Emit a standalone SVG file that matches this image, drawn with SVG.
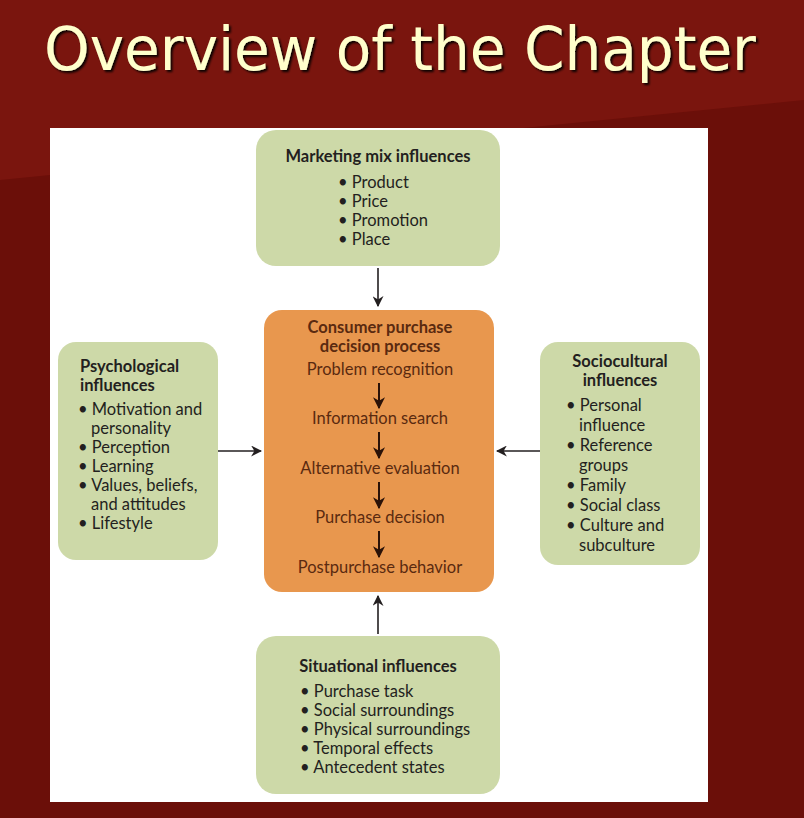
<svg xmlns="http://www.w3.org/2000/svg" width="804" height="818" viewBox="0 0 804 818">
<defs>
<marker id="ah" viewBox="0 0 10 10" refX="9" refY="5" markerWidth="11" markerHeight="11" orient="auto" markerUnits="userSpaceOnUse"><path d="M0,0 L10,5 L0,10 L3,5 z" fill="#231f20"/></marker>
<marker id="ah2" viewBox="0 0 10 10" refX="9" refY="5" markerWidth="12" markerHeight="12" orient="auto" markerUnits="userSpaceOnUse"><path d="M0,0 L10,5 L0,10 L3,5 z" fill="#2a1208"/></marker>
<filter id="sh"><feDropShadow dx="2" dy="2" stdDeviation="0.8" flood-color="#000" flood-opacity="0.9"/></filter>
</defs>
<style>
.g{fill:#cdd9a8}
.t{font-family:Lato,"Open Sans",sans-serif;font-size:16.5px;fill:#231f20}
.b{font-weight:bold}
.o{fill:#5a2a10}
.c{stroke:#231f20;stroke-width:1.6;fill:none}
</style>
<rect width="804" height="818" fill="#6b0f09"/>
<path d="M0,0 H804 V100 L0,180 Z" fill="#7a150e"/>
<text x="400" y="70" text-anchor="middle" font-family="DejaVu Sans,sans-serif" font-size="60" fill="#ffffcc" filter="url(#sh)" textLength="712" lengthAdjust="spacingAndGlyphs">Overview of the Chapter</text>
<rect x="50" y="128" width="658" height="674" fill="#fff"/>
<g id="marketing">
<rect class="g" x="256" y="130" width="244" height="136" rx="20"/>
<text class="t b" x="378" y="162" text-anchor="middle">Marketing mix influences</text>
<text class="t" x="338" y="188">• Product</text>
<text class="t" x="338" y="207">• Price</text>
<text class="t" x="338" y="226">• Promotion</text>
<text class="t" x="338" y="245">• Place</text>
</g>
<g id="consumer">
<rect x="264" y="310" width="230" height="282" rx="18" fill="#e8974e"/>
<text class="t b o" x="380" y="333" text-anchor="middle">Consumer purchase</text>
<text class="t b o" x="380" y="352" text-anchor="middle">decision process</text>
<text class="t o" x="380" y="375" text-anchor="middle">Problem recognition</text>
<text class="t o" x="380" y="424" text-anchor="middle">Information search</text>
<text class="t o" x="380" y="474" text-anchor="middle">Alternative evaluation</text>
<text class="t o" x="380" y="523" text-anchor="middle">Purchase decision</text>
<text class="t o" x="380" y="573" text-anchor="middle">Postpurchase behavior</text>
<g stroke="#2a1208" stroke-width="2" marker-end="url(#ah2)">
<line x1="379" y1="383" x2="379" y2="408"/>
<line x1="379" y1="432" x2="379" y2="458"/>
<line x1="379" y1="482" x2="379" y2="508"/>
<line x1="379" y1="531" x2="379" y2="557"/>
</g>
</g>
<g id="psychological">
<rect class="g" x="58" y="342" width="160" height="218" rx="18"/>
<text class="t b" x="80" y="372">Psychological</text>
<text class="t b" x="80" y="391">influences</text>
<text class="t" x="78" y="415">• Motivation and</text>
<text class="t" x="91" y="434">personality</text>
<text class="t" x="78" y="453">• Perception</text>
<text class="t" x="78" y="472">• Learning</text>
<text class="t" x="78" y="491">• Values, beliefs,</text>
<text class="t" x="91" y="510">and attitudes</text>
<text class="t" x="78" y="529">• Lifestyle</text>
</g>
<g id="sociocultural">
<rect class="g" x="540" y="342" width="160" height="223" rx="18"/>
<text class="t b" x="620" y="367" text-anchor="middle">Sociocultural</text>
<text class="t b" x="620" y="386" text-anchor="middle">influences</text>
<text class="t" x="566" y="411">• Personal</text>
<text class="t" x="579" y="431">influence</text>
<text class="t" x="566" y="451">• Reference</text>
<text class="t" x="579" y="471">groups</text>
<text class="t" x="566" y="491">• Family</text>
<text class="t" x="566" y="511">• Social class</text>
<text class="t" x="566" y="531">• Culture and</text>
<text class="t" x="579" y="551">subculture</text>
</g>
<g id="situational">
<rect class="g" x="256" y="636" width="244" height="158" rx="20"/>
<text class="t b" x="378" y="672" text-anchor="middle">Situational influences</text>
<text class="t" x="300" y="697">• Purchase task</text>
<text class="t" x="300" y="716">• Social surroundings</text>
<text class="t" x="300" y="735">• Physical surroundings</text>
<text class="t" x="300" y="754">• Temporal effects</text>
<text class="t" x="300" y="773">• Antecedent states</text>
</g>
<g id="connectors">
<line class="c" x1="378" y1="268" x2="378" y2="306" marker-end="url(#ah)"/>
<line class="c" x1="218" y1="451" x2="261" y2="451" marker-end="url(#ah)"/>
<line class="c" x1="540" y1="451" x2="497" y2="451" marker-end="url(#ah)"/>
<line class="c" x1="378" y1="634" x2="378" y2="596" marker-end="url(#ah)"/>
</g>
</svg>
